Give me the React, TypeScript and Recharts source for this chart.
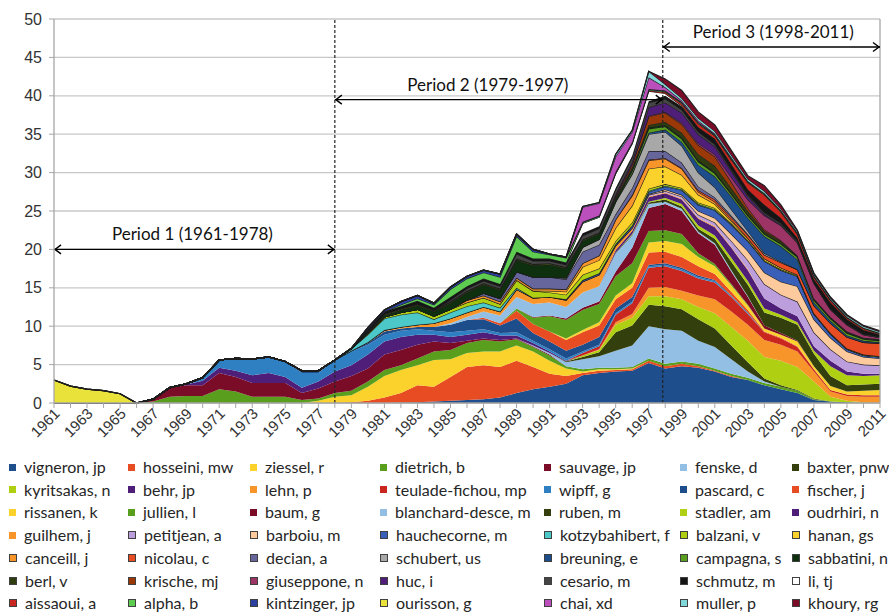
import React from 'react';
import { AreaChart, Area, XAxis, YAxis, CartesianGrid, ReferenceLine } from 'recharts';

const YEARS = [
  1961, 1962, 1963, 1964, 1965, 1966, 1967, 1968, 1969, 1970,
  1971, 1972, 1973, 1974, 1975, 1976, 1977, 1978, 1979, 1980,
  1981, 1982, 1983, 1984, 1985, 1986, 1987, 1988, 1989, 1990,
  1991, 1992, 1993, 1994, 1995, 1996, 1997, 1998, 1999, 2000,
  2001, 2002, 2003, 2004, 2005, 2006, 2007, 2008, 2009, 2010, 2011,
];
const Y_TICKS = [0, 5, 10, 15, 20, 25, 30, 35, 40, 45, 50];

// values per year, 1961 -> 2011
const VIGNERON = [0,0,0,0,0,0,0,0,0,0, 0,0,0,0,0,0,0,0,0,0, 0,0.05,0.1,0.2,0.3,0.4,0.5,0.7,1.3,1.8, 2.1,2.5,3.6,3.9,4.1,4.2,5.2,4.5,4.8,4.6, 4.1,3.4,3.0,2.3,1.8,1.3,0.4,0.2,0.1,0,0];
const HOSSEINI = [0,0,0,0,0,0,0,0,0,0, 0,0,0,0,0,0,0,0,0.1,0.3, 0.7,1.25,2.2,1.9,3.1,4.3,4.4,4.0,4.2,2.9, 1.7,1.0,0.3,0.3,0.2,0.2,0.3,0.3,0.3,0.2, 0.1,0.1,0,0,0,0,0,0,0,0,0];
const ZIESSEL = [0,0,0,0,0,0,0,0,0,0, 0,0,0,0,0,0,0.3,0.8,0.9,1.8, 2.8,3.0,2.6,3.5,2.3,1.8,1.8,2.0,2.0,2.0, 1.7,1.0,0.2,0.2,0.1,0.1,0,0,0,0, 0,0,0,0,0,0,0,0,0,0,0];
const DIETRICH = [0,0,0,0,0,0,0.2,0.8,0.9,0.9, 1.8,1.5,0.8,0.8,0.8,0.4,0.3,0.5,0.6,0.7, 0.8,0.6,0.9,1.1,1.2,1.3,1.5,1.3,0.8,0.6, 0.7,0.3,0.3,0.2,0.2,0.2,0.3,0.3,0.3,0.3, 0.3,0.3,0.3,0.3,0.3,0.3,0.1,0,0,0,0];
const SAUVAGE = [0,0,0,0,0,0,0.3,1.2,1.4,1.4, 2.1,1.9,1.8,1.8,1.8,0.9,1.3,1.5,1.9,1.7, 2.0,2.0,1.8,1.3,0.9,0.3,0.2,0.2,0.1,0.1, 0.1,0,0,0,0,0,0,0,0,0, 0,0,0,0,0,0,0,0,0,0,0];
const FENSKE = [0,0,0,0,0,0,0,0,0,0, 0,0,0,0,0,0,0,0,0,0, 0,0,0,0,0,0,0,0,0,0.1, 0.2,0.5,1.3,1.5,2.2,2.8,4.2,4.5,4.0,3.0, 2.8,1.9,0.8,0.2,0,0,0,0,0,0,0];
const BAXTER = [0,0,0,0,0,0,0,0,0,0, 0,0,0,0,0,0,0,0,0,0, 0,0,0,0,0,0,0,0,0,0, 0,0.1,0.3,0.5,2.4,2.6,2.8,3.0,2.8,2.8, 2.4,1.8,1.2,0.4,0.2,0.1,0.1,0,0,0,0];
const KYRITSAKAS = [0,0,0,0,0,0,0,0,0,0, 0,0,0,0,0,0,0,0,0,0, 0,0,0,0,0,0,0,0,0,0, 0,0,0.2,0.3,1.0,1.0,1.1,1.3,1.3,1.6, 2.0,2.4,2.8,2.8,3.2,3.0,2.2,0.6,0.2,0.1,0];
const BEHR = [0,0,0,0,0,0,0,0,0.1,0.6, 0.7,0.8,1.0,1.3,0.8,0.7,0.9,1.3,1.4,1.8, 1.7,1.7,1.3,0.9,0.8,0.8,0.8,0.6,0.4,0.3, 0.2,0.1,0,0,0,0,0,0,0,0, 0,0,0,0,0,0,0,0,0,0,0];
const LEHN = [0,0,0,0,0,0,0,0,0,0, 0,0,0,0,0,0,0,0,0,0, 0,0,0,0,0,0,0,0,0,0, 0,0,0,0.1,0.3,0.5,1.1,1.2,1.1,1.5, 1.8,2.0,2.1,2.2,2.1,2.0,1.3,0.7,0.6,0.7,0.8];
const TEULADE = [0,0,0,0,0,0,0,0,0,0, 0,0,0,0,0,0,0,0,0,0, 0,0,0,0,0,0,0,0,0,0, 0,0,0.3,0.4,1.0,1.4,2.6,2.7,2.6,2.2, 2.2,1.9,1.4,1.0,0.8,0.6,0.3,0.2,0.2,0.2,0.2];
const WIPFF = [0,0,0,0,0,0,0,0,0.1,0.4, 1.0,1.6,2.1,2.1,2.0,1.9,1.1,1.5,1.8,1.3, 0.9,0.8,0.7,0.5,0.6,0.5,0.4,0.3,0.4,0.3, 0.3,0.3,0.2,0.2,0.2,0.2,0.2,0.2,0.2,0.2, 0.2,0.1,0.1,0,0,0,0,0,0,0,0];
const PASCARD = [0,0,0,0,0,0,0,0,0,0, 0,0,0,0,0,0.3,0.3,0,0.1,0.2, 0.4,0.3,0.3,0.5,1.0,1.4,1.3,1.0,1.8,1.0, 1.0,1.0,0.9,1.0,0.6,0.6,0.2,0.2,0.2,0.2, 0.1,0.1,0.1,0,0,0,0,0,0,0,0];
const FISCHER = [0,0,0,0,0,0,0,0,0,0, 0,0,0,0,0,0,0,0,0,0, 0,0,0,0,0,0,0.2,0.3,1.0,1.2, 1.3,1.4,1.6,1.5,1.2,1.2,1.6,1.5,1.4,1.2, 0.8,0.5,0.3,0.1,0.1,0.1,0,0,0,0,0];
const RISSANEN = [0,0,0,0,0,0,0,0,0,0, 0,0,0,0,0,0,0,0,0,0, 0,0,0,0,0,0,0,0,0,0, 0,0.2,0.3,0.4,0.5,0.6,1.3,1.4,1.7,1.2, 1.0,0.8,0.6,0.4,0.4,0.6,0.4,0.5,0.4,0.6,0.7];
const JULLIEN = [0,0,0,0,0,0,0,0,0,0, 0,0,0,0,0,0,0,0,0,0, 0,0,0,0,0,0,0,0,0.3,0.8, 2.0,2.4,2.6,2.4,2.5,2.6,1.5,1.4,1.3,0.5, 0.3,0.2,0.1,0,0,0,0,0,0,0,0];
const BAUM = [0,0,0,0,0,0,0,0,0,0, 0,0,0,0,0,0,0,0,0,0, 0,0,0,0,0,0,0,0,0,0.1, 0.1,0.2,0.3,0.3,0.6,2.0,3.0,3.4,3.0,2.6, 2.5,1.6,1.0,0.4,0.2,0.1,0,0,0,0,0];
const BLANCHARD = [0,0,0,0,0,0,0,0,0,0, 0,0,0,0,0,0,0,0,0,0, 0,0,0,0,0.2,0.4,0.8,1.0,1.5,1.7, 1.7,1.5,2.0,2.0,2.4,1.6,0.5,0.3,0.3,0.2, 0.2,0.2,0.1,0,0,0,0,0,0,0,0];
const RUBEN = [0,0,0,0,0,0,0,0,0,0, 0,0,0,0,0,0,0,0,0,0, 0,0,0,0,0,0,0,0,0,0, 0,0,0,0,0.1,0.1,0.2,0.3,0.3,0.4, 0.6,1.1,1.5,1.7,2.0,2.1,1.6,1.3,0.8,0.8,0.8];
const STADLER = [0,0,0,0,0,0,0,0,0,0, 0,0,0,0,0,0,0,0,0,0, 0,0,0,0,0,0,0,0,0,0, 0,0,0,0,0,0.1,0.1,0.2,0.3,0.4, 0.4,0.5,0.5,0.5,0.4,0.3,0.4,1.3,1.3,1.1,1.1];
const OUDRHIRI = [0,0,0,0,0,0,0,0,0,0, 0,0,0,0,0,0,0,0,0,0, 0,0,0,0,0,0,0,0,0,0, 0,0,0,0,0.3,0.4,0.6,0.6,0.6,0.9, 1.1,1.3,1.4,1.3,0.8,0.8,0.6,0.7,0.5,0.3,0.2];
const GUILHEM = [0,0,0,0,0,0,0,0,0,0, 0,0,0,0,0,0,0,0,0,0.1, 0.2,0.2,0.3,0.5,0.6,0.6,0.6,0.5,1.0,0.8, 0.7,0.9,1.4,1.5,0.6,0.3,0.1,0.1,0.1,0.1, 0.1,0.1,0.1,0,0,0,0,0,0,0,0];
const PETITJEAN = [0,0,0,0,0,0,0,0,0,0, 0,0,0,0,0,0,0,0,0,0, 0,0,0,0,0,0,0,0,0,0, 0,0,0,0,0,0.1,0.2,0.2,0.3,0.4, 0.5,0.8,1.2,1.9,1.8,1.9,1.8,1.5,1.3,1.2,1.1];
const BARBOIU = [0,0,0,0,0,0,0,0,0,0, 0,0,0,0,0,0,0,0,0,0, 0,0,0,0,0,0,0,0,0,0, 0,0,0,0,0,0,0.1,0.2,0.2,0.5, 0.6,0.9,1.2,1.5,1.7,2.0,1.7,1.5,1.3,1.0,0.9];
const HAUCHECORNE = [0,0,0,0,0,0,0,0,0,0, 0,0,0,0,0,0,0,0,0,0, 0,0,0,0,0,0,0,0,0,0, 0,0.1,0.2,0.2,0.2,0.3,0.3,0.4,0.6,0.8, 1.0,1.2,1.3,1.5,1.5,1.3,0.7,0.5,0.3,0.2,0.2];
const KOTZYBAHIBERT = [0,0,0,0,0,0,0,0,0,0, 0,0,0,0,0,0,0,0,0.3,1.0, 1.5,1.6,1.6,0.5,0.8,0.8,0.6,0.5,0.2,0, 0,0,0,0,0,0,0.1,0.1,0.1,0.1, 0.1,0.1,0,0,0,0,0,0,0,0,0];
const BALZANI = [0,0,0,0,0,0,0,0,0,0, 0,0,0,0,0,0,0,0,0,0.2, 0.2,0.3,0.4,0.4,0.4,0.5,0.6,0.5,1.0,0.9, 0.6,0.6,0.7,0.6,0.4,0.4,0.3,0.2,0.2,0.2, 0.2,0.1,0.1,0.1,0.1,0.1,0.1,0.1,0.1,0.1,0.1];
const HANAN = [0,0,0,0,0,0,0,0,0,0, 0,0,0,0,0,0,0,0,0,0, 0,0,0,0,0,0,0,0,0,0, 0.2,0.4,1.0,1.1,1.7,2.2,2.6,2.3,1.7,1.0, 0.5,0.3,0.2,0.2,0.2,0.1,0,0,0,0,0];
const CANCEILL = [0,0,0,0,0,0,0,0,0,0, 0,0,0,0,0,0,0,0,0,0, 0,0,0,0,0,0.3,0.3,0.3,0.3,0.3, 0.3,0.3,0.5,0.6,1.1,1.3,1.1,1.0,0.8,0.4, 0.3,0.2,0.1,0,0,0,0,0,0,0,0];
const NICOLAU = [0,0,0,0,0,0,0,0,0,0, 0,0,0,0,0,0,0,0,0,0, 0,0,0,0,0,0,0,0,0,0, 0,0,0,0,0,0.1,0.1,0.1,0.1,0.2, 0.3,0.3,0.4,0.5,0.7,0.7,1.0,1.3,1.5,1.6,1.7];
const DECIAN = [0,0,0,0,0,0,0,0,0,0, 0,0,0,0,0,0,0,0,0,0, 0,0,0,0,0,0,0.3,0.4,0.8,1.5, 1.5,1.3,1.5,1.4,0.7,0.9,1.1,0.9,0.7,0.5, 0.3,0.2,0.1,0,0,0,0,0,0,0,0];
const SCHUBERT = [0,0,0,0,0,0,0,0,0,0, 0,0,0,0,0,0,0,0,0,0, 0,0,0,0,0,0,0,0,0,0, 0,0.2,0.6,0.7,1.6,1.8,2.2,2.5,2.2,1.8, 1.3,0.8,0.4,0.2,0.1,0,0,0,0,0,0];
const BREUNING = [0,0,0,0,0,0,0,0,0,0, 0,0,0,0,0,0,0,0,0,0, 0,0,0,0,0,0,0,0,0,0, 0,0,0,0,0,0.1,0.2,0.3,0.5,1.0, 1.4,1.7,1.7,2.2,2.0,1.3,0.4,0.3,0.2,0.2,0.1];
const CAMPAGNA = [0,0,0,0,0,0,0,0,0,0, 0,0,0,0,0,0,0,0,0,0, 0,0,0,0,0,0,0,0,0,0, 0,0,0,0,0,0.3,0.5,0.4,0.4,0.4, 0.4,0.3,0.3,0.3,0.3,0.3,0.3,0.3,0.3,0.2,0.2];
const SABBATINI = [0,0,0,0,0,0,0,0,0,0, 0,0,0,0,0,0,0,0,0,0, 0.2,0.3,0.5,0.6,0.8,1.0,1.1,1.1,1.5,1.5, 1.6,1.2,0.8,0.7,0.4,0.3,0.2,0.2,0.2,0.2, 0.2,0.1,0.1,0.1,0.1,0.1,0.1,0.1,0.1,0.1,0.1];
const BERL = [0,0,0,0,0,0,0,0,0,0, 0,0,0,0,0,0,0,0,0,0.2, 0.2,0.2,0.2,0.2,0.2,0.2,0.2,0.2,0.2,0.2, 0.2,0.2,0.2,0.2,0.2,0.2,0.3,0.4,0.6,0.8, 0.8,0.7,0.5,0.3,0.3,0.1,0.1,0.1,0.1,0.1,0.1];
const KRISCHE = [0,0,0,0,0,0,0,0,0,0, 0,0,0,0,0,0,0,0,0,0, 0,0,0,0,0,0,0,0,0,0, 0,0,0,0,0.2,0.4,1.1,1.2,1.1,1.2, 1.2,0.8,0.4,0.2,0.1,0,0,0,0,0,0];
const GIUSEPPONE = [0,0,0,0,0,0,0,0,0,0, 0,0,0,0,0,0,0,0,0,0, 0,0,0,0,0,0,0,0,0,0, 0,0,0,0,0,0,0.1,0.1,0.2,0.2, 0.3,0.6,1.1,1.8,1.9,1.7,2.0,1.0,0.9,0.4,0.2];
const HUC = [0,0,0,0,0,0,0,0,0,0, 0,0,0,0,0,0,0,0,0,0, 0,0,0,0,0,0,0,0,0,0, 0,0,0,0,0.2,0.3,1.1,1.2,1.3,1.2, 1.0,0.8,0.4,0.2,0.1,0,0,0,0,0,0];
const CESARIO = [0,0,0,0,0,0,0,0,0,0, 0,0,0,0,0,0,0,0,0,0, 0,0,0,0,0.2,0.3,0.3,0.3,0.6,0.4, 0.3,0.3,0.5,0.5,0.6,0.6,0.6,0.5,0.4,0.3, 0.3,0.2,0.2,0.2,0.2,0.2,0.1,0.1,0.1,0.1,0.1];
const SCHMUTZ = [0,0,0,0,0,0,0,0,0,0, 0,0,0,0,0,0,0,0,0,0.3, 0.3,0.3,0.4,0.3,0.4,0.3,0.3,0.3,0.3,0.3, 0.3,0.3,0.3,0.3,0.2,0.2,0.2,0.4,0.4,0.6, 0.7,0.7,0.7,1.0,0.7,0.4,0.4,0.8,0.6,0.5,0.3];
const LI = [0,0,0,0,0,0,0,0,0,0, 0,0,0,0,0,0,0,0,0,0, 0,0,0,0,0,0,0,0,0,0, 0,0,1.3,1.2,1.9,1.6,1.3,0.3,0.1,0, 0,0,0,0,0,0,0,0,0,0,0];
const AISSAOUI = [0,0,0,0,0,0,0,0,0,0, 0,0,0,0,0,0,0,0,0,0, 0,0,0,0,0,0,0,0,0,0, 0,0,0,0,0,0,0.1,0.2,0.3,0.5, 0.4,0.6,0.9,1.3,0.8,0.5,0.3,0.3,0.2,0.2,0.1];
const ALPHA = [0,0,0,0,0,0,0,0,0,0, 0,0,0,0,0,0,0,0,0,0, 0,0.2,0.3,0.4,1.0,1.0,0.8,0.9,2.0,0.9, 0.5,0.6,0.1,0.1,0.1,0.1,0.1,0.1,0.1,0.1, 0.1,0.1,0.1,0.1,0.1,0.1,0.1,0.1,0.1,0.1,0.1];
const KINTZINGER = [0,0,0,0,0,0,0,0,0,0, 0,0,0,0,0,0,0,0,0,0.2, 0.2,0.4,0.4,0.2,0.3,0.3,0.3,0.4,0.3,0.3, 0.1,0.1,0.1,0.1,0.1,0.1,0.1,0.1,0.1,0.1, 0.1,0.1,0.1,0.1,0.1,0.1,0.1,0,0,0,0];
const OURISSON = [3.0,2.2,1.8,1.6,1.2,0,0,0,0,0, 0,0,0,0,0,0,0,0,0,0, 0,0,0,0,0,0,0,0,0,0, 0,0,0,0,0,0,0,0,0,0, 0,0,0,0,0,0,0,0,0,0,0];
const CHAI = [0,0,0,0,0,0,0,0,0,0, 0,0,0,0,0,0,0,0,0,0, 0,0,0,0,0,0,0,0,0,0, 0,0,1.9,1.6,2.0,1.3,1.5,0.4,0.2,0.2, 0.1,0.1,0,0,0,0,0,0,0,0,0];
const MULLER = [0,0,0,0,0,0,0,0,0,0, 0,0,0,0,0,0,0,0,0,0, 0,0,0,0,0,0,0,0,0,0, 0,0,0.1,0.1,0.3,0.2,0.8,0.4,0.3,0.3, 0.3,0.3,0.3,0.3,0.2,0.2,0.2,0.2,0.2,0.2,0.2];
const KHOURY = [0,0,0,0,0,0,0,0,0,0, 0,0,0,0,0,0,0,0,0,0, 0,0,0,0,0,0,0,0,0,0, 0,0,0,0,0,0,0,0.7,1.0,0.8, 0.8,0.6,0.4,0.7,0.5,0.1,0.1,0.1,0.1,0.1,0.1];

type Series = { key: string; name: string; color: string; values: number[]; border: boolean };

// bottom of the stack first; legend reads in the same order, row by row
const SERIES: Series[] = [
  { key: 'vigneron', name: 'vigneron, jp', color: '#1f4e8c', values: VIGNERON, border: false },
  { key: 'hosseini', name: 'hosseini, mw', color: '#e84c22', values: HOSSEINI, border: false },
  { key: 'ziessel', name: 'ziessel, r', color: '#fbd12b', values: ZIESSEL, border: false },
  { key: 'dietrich', name: 'dietrich, b', color: '#5a9e1e', values: DIETRICH, border: false },
  { key: 'sauvage', name: 'sauvage, jp', color: '#7b0c28', values: SAUVAGE, border: false },
  { key: 'fenske', name: 'fenske, d', color: '#93bfe4', values: FENSKE, border: false },
  { key: 'baxter', name: 'baxter, pnw', color: '#333f0c', values: BAXTER, border: false },
  { key: 'kyritsakas', name: 'kyritsakas, n', color: '#afcf12', values: KYRITSAKAS, border: false },
  { key: 'behr', name: 'behr, jp', color: '#4e1e78', values: BEHR, border: false },
  { key: 'lehn', name: 'lehn, p', color: '#f7942a', values: LEHN, border: false },
  { key: 'teulade', name: 'teulade-fichou, mp', color: '#c8261e', values: TEULADE, border: false },
  { key: 'wipff', name: 'wipff, g', color: '#2f80c3', values: WIPFF, border: false },
  { key: 'pascard', name: 'pascard, c', color: '#1e4d8c', values: PASCARD, border: false },
  { key: 'fischer', name: 'fischer, j', color: '#e84c22', values: FISCHER, border: false },
  { key: 'rissanen', name: 'rissanen, k', color: '#fbd12b', values: RISSANEN, border: false },
  { key: 'jullien', name: 'jullien, l', color: '#5a9e1e', values: JULLIEN, border: false },
  { key: 'baum', name: 'baum, g', color: '#7b0c28', values: BAUM, border: false },
  { key: 'blanchard', name: 'blanchard-desce, m', color: '#93bfe4', values: BLANCHARD, border: false },
  { key: 'ruben', name: 'ruben, m', color: '#333f0c', values: RUBEN, border: false },
  { key: 'stadler', name: 'stadler, am', color: '#afcf12', values: STADLER, border: false },
  { key: 'oudrhiri', name: 'oudrhiri, n', color: '#4e1e78', values: OUDRHIRI, border: false },
  { key: 'guilhem', name: 'guilhem, j', color: '#f7942a', values: GUILHEM, border: false },
  { key: 'petitjean', name: 'petitjean, a', color: '#bc9edd', values: PETITJEAN, border: true },
  { key: 'barboiu', name: 'barboiu, m', color: '#fcca9c', values: BARBOIU, border: true },
  { key: 'hauchecorne', name: 'hauchecorne, m', color: '#3a5fb8', values: HAUCHECORNE, border: true },
  { key: 'kotzybahibert', name: 'kotzybahibert, f', color: '#4cc8c8', values: KOTZYBAHIBERT, border: true },
  { key: 'balzani', name: 'balzani, v', color: '#afcf12', values: BALZANI, border: true },
  { key: 'hanan', name: 'hanan, gs', color: '#fbd12b', values: HANAN, border: true },
  { key: 'canceill', name: 'canceill, j', color: '#f7942a', values: CANCEILL, border: true },
  { key: 'nicolau', name: 'nicolau, c', color: '#e84c22', values: NICOLAU, border: true },
  { key: 'decian', name: 'decian, a', color: '#67669c', values: DECIAN, border: true },
  { key: 'schubert', name: 'schubert, us', color: '#a8a8a8', values: SCHUBERT, border: true },
  { key: 'breuning', name: 'breuning, e', color: '#1e4d8c', values: BREUNING, border: true },
  { key: 'campagna', name: 'campagna, s', color: '#5a9e1e', values: CAMPAGNA, border: true },
  { key: 'sabbatini', name: 'sabbatini, n', color: '#0e300e', values: SABBATINI, border: true },
  { key: 'berl', name: 'berl, v', color: '#2f3c10', values: BERL, border: true },
  { key: 'krische', name: 'krische, mj', color: '#9a3808', values: KRISCHE, border: true },
  { key: 'giuseppone', name: 'giuseppone, n', color: '#9c3566', values: GIUSEPPONE, border: true },
  { key: 'huc', name: 'huc, i', color: '#4e1e78', values: HUC, border: true },
  { key: 'cesario', name: 'cesario, m', color: '#454545', values: CESARIO, border: true },
  { key: 'schmutz', name: 'schmutz, m', color: '#151515', values: SCHMUTZ, border: true },
  { key: 'li', name: 'li, tj', color: '#ffffff', values: LI, border: true },
  { key: 'aissaoui', name: 'aissaoui, a', color: '#c8261e', values: AISSAOUI, border: true },
  { key: 'alpha', name: 'alpha, b', color: '#5ecc50', values: ALPHA, border: true },
  { key: 'kintzinger', name: 'kintzinger, jp', color: '#2a3fa0', values: KINTZINGER, border: true },
  { key: 'ourisson', name: 'ourisson, g', color: '#e8e23a', values: OURISSON, border: true },
  { key: 'chai', name: 'chai, xd', color: '#bb4fbb', values: CHAI, border: true },
  { key: 'muller', name: 'muller, p', color: '#82d8d8', values: MULLER, border: true },
  { key: 'khoury', name: 'khoury, rg', color: '#7b0c28', values: KHOURY, border: true },
];

const ROWS = YEARS.map((year, i) => {
  const row: Record<string, number> = { year };
  SERIES.forEach((s) => {
    row[s.key] = s.values[i];
  });
  return row;
});

const LEGEND_COLS = [9, 128, 250, 380, 544, 680, 792];
const LEGEND_TOP = 467;
const LEGEND_ROW_H = 22.7;

const AXIS_GRAY = '#a6a6a6';
const SANS = '"Liberation Sans", Arial, sans-serif';
const LABEL_FONT = 'Lato, "Open Sans", sans-serif';

function YearTick(props: any) {
  const { x, y, payload } = props;
  const yr = payload.value as number;
  if (yr % 2 === 0) return <g />;
  return (
    <g transform={`translate(${x + 3},${y + 1})`}>
      <text
        x={0}
        y={0}
        dy="0.35em"
        textAnchor="end"
        transform="rotate(-45)"
        fontSize={15}
        fontFamily={SANS}
        fill="#333"
      >
        {yr}
      </text>
    </g>
  );
}

function arrowShape(label: string, dx: number) {
  return (p: any) => {
    const { x1, y1, x2, y2 } = p;
    const h = 7;
    const w = 4.5;
    return (
      <g>
        <line x1={x1} y1={y1} x2={x2} y2={y2} stroke="#000" strokeWidth={1.4} />
        <polyline
          points={`${x1 + h},${y1 - w} ${x1 + 1},${y1} ${x1 + h},${y1 + w}`}
          fill="none"
          stroke="#000"
          strokeWidth={1.4}
        />
        <polyline
          points={`${x2 - h},${y2 - w} ${x2 - 1},${y2} ${x2 - h},${y2 + w}`}
          fill="none"
          stroke="#000"
          strokeWidth={1.4}
        />
        <text
          x={(x1 + x2) / 2 + dx}
          y={y1 - 9}
          textAnchor="middle"
          fontFamily={LABEL_FONT}
          fontSize={17}
          fill="#111"
        >
          {label}
        </text>
      </g>
    );
  };
}

function ChartLegend() {
  return (
    <>
      {SERIES.map((s, i) => {
        const col = i % 7;
        const row = Math.floor(i / 7);
        return (
          <div
            key={s.key}
            style={{
              position: 'absolute',
              left: LEGEND_COLS[col],
              top: LEGEND_TOP + row * LEGEND_ROW_H - 10,
              height: 20,
              lineHeight: '20px',
              display: 'flex',
              alignItems: 'center',
              whiteSpace: 'nowrap',
              fontFamily: LABEL_FONT,
              fontSize: 16,
              color: '#262626',
            }}
          >
            <span
              style={{
                display: 'inline-block',
                width: s.border ? 6 : 7,
                height: s.border ? 6 : 7,
                background: s.color,
                border: s.border ? '1px solid #404040' : 'none',
              }}
            />
            <span style={{ marginLeft: 8 }}>{s.name}</span>
          </div>
        );
      })}
    </>
  );
}

export default function App() {
  return (
    <div style={{ position: 'absolute', left: 0, top: 0, width: 889, height: 615, background: '#fff', overflow: 'hidden' }}>
      <AreaChart width={889} height={450} data={ROWS} margin={{ top: 19, right: 9, left: 0, bottom: 7 }}>
        <CartesianGrid vertical={false} stroke="#c8c8c8" strokeWidth={1.3} />
        <XAxis
          type="number"
          dataKey="year"
          domain={[1961, 2011]}
          ticks={YEARS}
          interval={0}
          height={40}
          tickSize={5}
          tickMargin={2}
          axisLine={{ stroke: AXIS_GRAY, strokeWidth: 1.3 }}
          tickLine={{ stroke: AXIS_GRAY }}
          tick={<YearTick />}
        />
        <YAxis
          type="number"
          domain={[0, 50]}
          ticks={Y_TICKS}
          interval={0}
          width={54}
          tickSize={5}
          tickMargin={7}
          axisLine={{ stroke: AXIS_GRAY, strokeWidth: 1.3 }}
          tickLine={{ stroke: AXIS_GRAY }}
          tick={{ fontSize: 16, fill: '#333', fontFamily: SANS }}
        />
        {SERIES.map((s) => (
          <Area
            key={s.key}
            type="linear"
            dataKey={s.key}
            name={s.name}
            stackId="all"
            fill={s.color}
            fillOpacity={1}
            stroke={s.border ? '#1e1e1e' : 'none'}
            strokeWidth={s.border ? 1.2 : 0}
            dot={false}
            activeDot={false}
            isAnimationActive={false}
          />
        ))}
        <ReferenceLine x={2011} stroke={AXIS_GRAY} strokeWidth={1.3} />
        <ReferenceLine x={1978} stroke="#222" strokeWidth={1.2} strokeDasharray="3 2" />
        <ReferenceLine x={1997.85} stroke="#222" strokeWidth={1.2} strokeDasharray="3 2" />
        <ReferenceLine
          segment={[{ x: 1961, y: 20 }, { x: 1978, y: 20 }]}
          shape={arrowShape('Period 1 (1961-1978)', -2)}
        />
        <ReferenceLine
          segment={[{ x: 1978, y: 39.5 }, { x: 1997.85, y: 39.5 }]}
          shape={arrowShape('Period 2 (1979-1997)', -11)}
        />
        <ReferenceLine
          segment={[{ x: 1997.85, y: 46.35 }, { x: 2011, y: 46.35 }]}
          shape={arrowShape('Period 3 (1998-2011)', 2)}
        />
      </AreaChart>
      <ChartLegend />
    </div>
  );
}
